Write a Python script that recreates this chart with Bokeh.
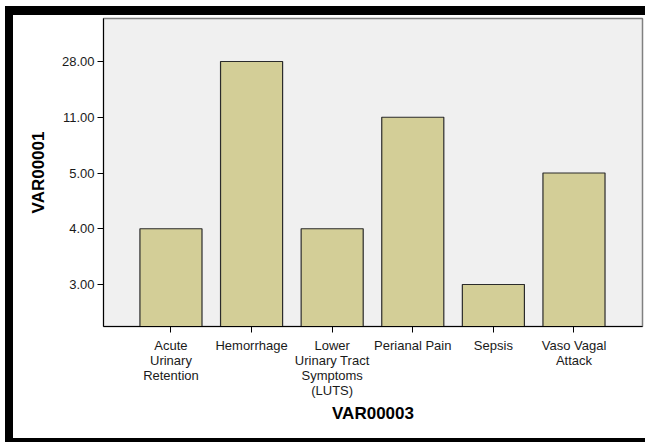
from bokeh.plotting import figure
from bokeh.models import Range1d, FixedTicker, ColumnDataSource
from bokeh.embed import file_html
from bokeh.resources import INLINE

categories = ["Acute\nUrinary\nRetention", "Hemorrhage", "Lower\nUrinary Tract\nSymptoms\n(LUTS)",
              "Perianal Pain", "Sepsis", "Vaso Vagal\nAttack"]
values = [4, 28, 4, 11, 3, 5]
y_levels = [3, 4, 5, 11, 28]  # ordinal y axis levels as shown on the chart

x_idx = list(range(len(categories)))
y_idx = [y_levels.index(v) for v in values]

W, H = 632, 423
y_start = -0.753
p = figure(width=W, height=H, output_backend="svg", toolbar_location=None,
           x_range=Range1d(-0.837, 5.85), y_range=Range1d(y_start, 4.771),
           styles={"margin-top": "15px", "margin-left": "13px",
                   "box-shadow": "-8px 0 0 0 black, 0 -9px 0 0 black, "
                                 "-8px -9px 0 0 black, 0 4px 0 0 black, -8px 4px 0 0 black"})
p.min_border_left = 90
p.min_border_right = 3
p.min_border_top = 3
p.min_border_bottom = 112
p.background_fill_color = "#f0f0f0"
p.border_fill_color = "white"
p.outline_line_color = "#808080"
p.outline_line_width = 1.5
p.grid.visible = False

src = ColumnDataSource(dict(x=x_idx, top=y_idx, bottom=[y_start] * len(x_idx)))
p.vbar(x="x", top="top", bottom="bottom", width=0.77, source=src,
       fill_color="#d3ce97", line_color="#2b2b2b", line_width=1.2)

font = "Liberation Sans"
xa = p.xaxis[0]
xa.ticker = FixedTicker(ticks=x_idx)
xa.major_label_overrides = {i: c for i, c in zip(x_idx, categories)}
ya = p.yaxis[0]
ya.ticker = FixedTicker(ticks=list(range(len(y_levels))))
ya.major_label_overrides = {i: f"{v:.2f}" for i, v in enumerate(y_levels)}

for ax in (xa, ya):
    ax.axis_line_color = "black"
    ax.axis_line_width = 1
    ax.major_tick_line_color = "black"
    ax.major_tick_in = 0
    ax.major_tick_out = 6
    ax.minor_tick_line_color = None
    ax.major_label_text_font = font
    ax.major_label_text_font_size = "13px"
    ax.major_label_text_color = "#1a1a1a"
    ax.axis_label_text_font = font
    ax.axis_label_text_font_size = "17px"
    ax.axis_label_text_font_style = "bold"
    ax.axis_label_text_color = "black"

xa.axis_label = "VAR00003"
xa.major_label_standoff = 5
xa.axis_label_standoff = 3
xa.major_label_text_line_height = 1.0
ya.axis_label = "VAR00001"
ya.major_label_standoff = 3
ya.axis_label_standoff = 11

open("out.html", "w").write(file_html(p, INLINE))
